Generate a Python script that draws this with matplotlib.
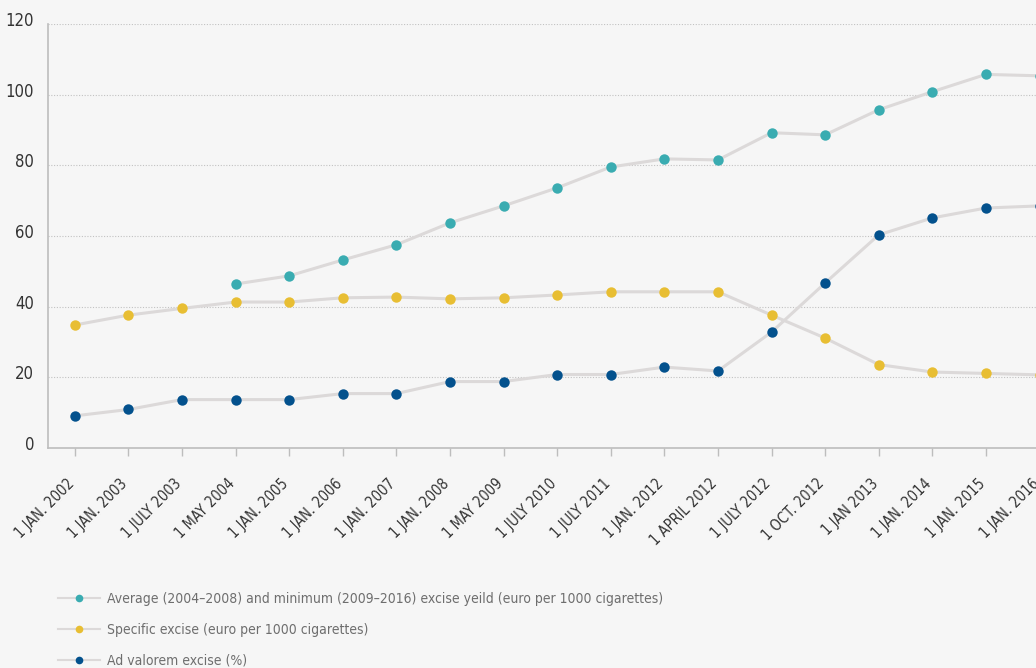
import matplotlib
matplotlib.use("Agg")
import matplotlib.pyplot as plt
from matplotlib.lines import Line2D
from matplotlib.transforms import offset_copy

plt.rcParams['font.family'] = ['DejaVu Sans']
plt.rcParams['font.stretch'] = 'condensed'

dates = ["1 JAN. 2002", "1 JAN. 2003", "1 JULY 2003", "1 MAY 2004", "1 JAN. 2005",
         "1 JAN. 2006", "1 JAN. 2007", "1 JAN. 2008", "1 MAY 2009", "1 JULY 2010",
         "1 JULY 2011", "1 JAN. 2012", "1 APRIL 2012", "1 JULY 2012", "1 OCT. 2012",
         "1 JAN 2013", "1 JAN. 2014", "1 JAN. 2015", "1 JAN. 2016"]

# starts at 1 MAY 2004
excise_yield = [None, None, None, 46.4, 48.7, 53.2, 57.5, 63.7, 68.5, 73.6,
                79.5, 81.8, 81.5, 89.2, 88.6, 95.7, 100.8, 105.7, 105.3]
specific = [34.8, 37.6, 39.5, 41.3, 41.3, 42.5, 42.7, 42.2, 42.5, 43.3,
            44.2, 44.2, 44.2, 37.6, 31.1, 23.6, 21.5, 21.1, 20.7]
ad_valorem = [9.1, 10.9, 13.7, 13.7, 13.7, 15.4, 15.4, 18.8, 18.8, 20.8,
              20.8, 22.9, 21.8, 32.8, 46.7, 60.3, 65.1, 67.9, 68.5]

labels = ["Average (2004\u20132008) and minimum (2009\u20132016) excise yeild (euro per 1000 cigarettes)",
          "Specific excise (euro per 1000 cigarettes)",
          "Ad valorem excise (%)"]
colors = ["#3aacb1", "#e8be33", "#03518d"]
line_color = "#dcd9d9"
bg = "#f6f6f6"

fig = plt.figure(figsize=(10.36, 6.68), dpi=100, facecolor=bg)
ax = fig.add_axes([0.0463, 0.3293, 0.983, 0.635], facecolor=bg)

x = list(range(len(dates)))
for series, c in zip([excise_yield, specific, ad_valorem], colors):
    xs = [i for i, v in zip(x, series) if v is not None]
    ys = [v for v in series if v is not None]
    ax.plot(xs, ys, color=line_color, lw=2.2, zorder=2, clip_on=False)
    ax.plot(xs, ys, 'o', color=c, ms=7.5, mec='none', zorder=3, clip_on=False)

ax.set_xlim(-0.5, 18.5)
ax.set_ylim(0, 120)
ax.set_yticks(range(0, 121, 20))
ax.grid(axis='y', color='#c2c2c2', ls=(0, (1, 1.5)), lw=0.8)
ax.set_axisbelow(True)

for s in ['top', 'right']:
    ax.spines[s].set_visible(False)
for s in ['left', 'bottom']:
    ax.spines[s].set_color('#bdbdbd')
    ax.spines[s].set_linewidth(1.2)

ax.set_xticks(x)
ax.set_xticklabels(dates, rotation=45, ha='right', va='center', rotation_mode='anchor')
ax.tick_params(axis='x', length=6, color='#bdbdbd', width=1, labelsize=10.5,
               labelcolor='#333333', pad=18)
ax.tick_params(axis='y', length=0, labelsize=12, labelcolor='#333333', pad=10)
for t in ax.get_xticklabels():
    t.set_transform(offset_copy(t.get_transform(), fig=fig, x=-3, y=0, units='dots'))
for t in ax.get_yticklabels():
    t.set_transform(offset_copy(t.get_transform(), fig=fig, x=0, y=5, units='dots'))

handles = [Line2D([0], [0], color=line_color, lw=1.5, marker='o', ms=5.5,
                  mfc=c, mec='none') for c in colors]
fig.legend(handles, labels, loc='upper left', bbox_to_anchor=(0.051, 0.122),
           frameon=False, fontsize=10, labelcolor='#6e6e6e', handlelength=3.0,
           handletextpad=0.5, labelspacing=1.22, borderaxespad=0)

fig.savefig("out.png", dpi=100, facecolor=bg)
